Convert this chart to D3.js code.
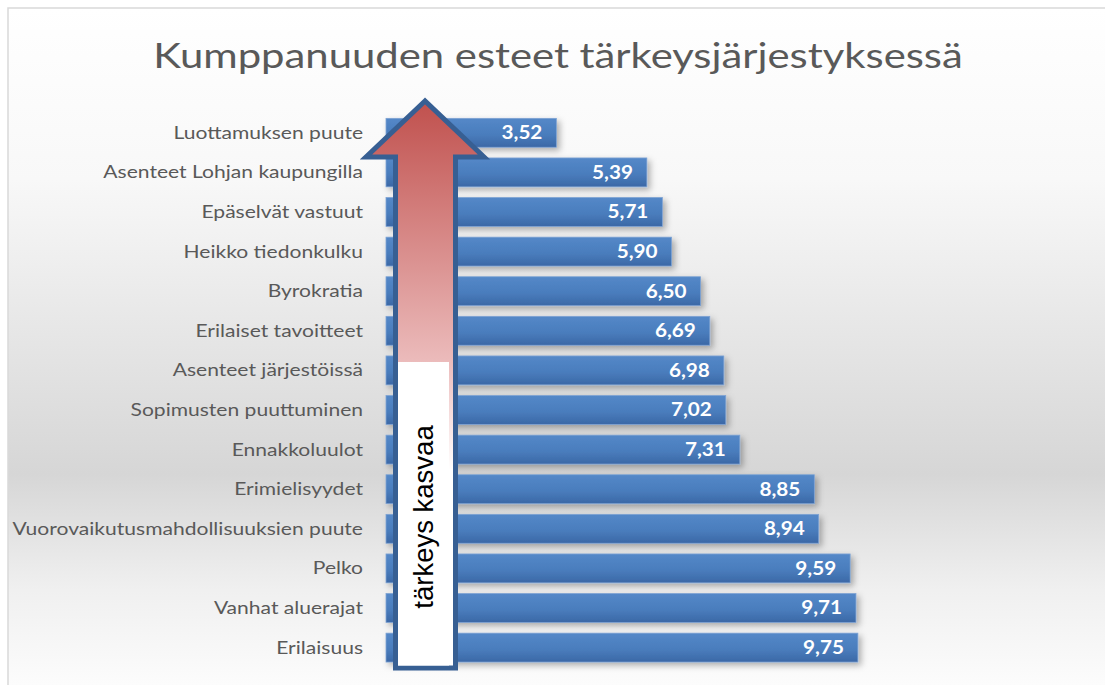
<!DOCTYPE html>
<html>
<head>
<meta charset="utf-8">
<script src="https://cdn.jsdelivr.net/npm/d3@7"></script>
<style>
  body { margin: 0; background: #fff; }
  svg { display: block; }
</style>
</head>
<body>
<svg id="chart" width="1105" height="685"></svg>
<script>
// data
const categories = ["Luottamuksen puute", "Asenteet Lohjan kaupungilla", "Epäselvät vastuut",
  "Heikko tiedonkulku", "Byrokratia", "Erilaiset tavoitteet", "Asenteet järjestöissä",
  "Sopimusten puuttuminen", "Ennakkoluulot", "Erimielisyydet",
  "Vuorovaikutusmahdollisuuksien puute", "Pelko", "Vanhat aluerajat", "Erilaisuus"];
const values = [3.52, 5.39, 5.71, 5.90, 6.50, 6.69, 6.98, 7.02, 7.31, 8.85, 8.94, 9.59, 9.71, 9.75];
const title = "Kumppanuuden esteet tärkeysjärjestyksessä";
const arrowText = "tärkeys kasvaa";

const svg = d3.select("#chart");
const W = 1105, H = 685;
const stretch = 1.15;  // reference text looks a bit wide

const defs = svg.append("defs");

// background: white -> grey -> white
const bg = defs.append("linearGradient").attr("id", "bg")
  .attr("x1", 0).attr("y1", 0).attr("x2", 0).attr("y2", 1);
bg.append("stop").attr("offset", "0%").attr("stop-color", "#ffffff");
bg.append("stop").attr("offset", "25%").attr("stop-color", "#f8f8f8");
bg.append("stop").attr("offset", "68%").attr("stop-color", "#d6d6d6");
bg.append("stop").attr("offset", "85%").attr("stop-color", "#f0f0f0");
bg.append("stop").attr("offset", "100%").attr("stop-color", "#fdfdfd");

const barGrad = defs.append("linearGradient").attr("id", "barGrad")
  .attr("x1", 0).attr("y1", 0).attr("x2", 0).attr("y2", 1);
barGrad.append("stop").attr("offset", "0%").attr("stop-color", "#5488c8");
barGrad.append("stop").attr("offset", "55%").attr("stop-color", "#4a7dbd");
barGrad.append("stop").attr("offset", "100%").attr("stop-color", "#3b68a6");

const shadow = defs.append("filter").attr("id", "shadow")
  .attr("x", "-10%").attr("y", "-30%").attr("width", "130%").attr("height", "180%");
shadow.append("feDropShadow").attr("dx", 3).attr("dy", 3).attr("stdDeviation", 3)
  .attr("flood-color", "#000").attr("flood-opacity", 0.3);

const arrowGrad = defs.append("linearGradient").attr("id", "arrowGrad")
  .attr("gradientUnits", "userSpaceOnUse")
  .attr("x1", 0).attr("y1", 100).attr("x2", 0).attr("y2", 470);
arrowGrad.append("stop").attr("offset", "0%").attr("stop-color", "#c0504d");
arrowGrad.append("stop").attr("offset", "70%").attr("stop-color", "#ebbaba");
arrowGrad.append("stop").attr("offset", "100%").attr("stop-color", "#ffffff");

// frame
svg.append("rect").attr("x", 8).attr("y", 8).attr("width", W).attr("height", H)
  .attr("fill", "url(#bg)").attr("stroke", "#d9d9d9").attr("stroke-width", 1.5);

// title
svg.append("g").attr("transform", "translate(558,68) scale(1.23,1)")
  .append("text")
  .attr("text-anchor", "middle")
  .attr("font-family", "Lato, sans-serif")
  .attr("font-size", 34)
  .attr("fill", "#595959")
  .text(title);

// scales
const x = d3.scaleLinear().domain([0, 10]).range([386, 870]);
const y = d3.scaleBand().domain(categories).range([113, 667.4])
  .paddingInner(0.27).paddingOuter(0.135);

// category labels
const labels = svg.append("g");
categories.forEach(c => {
  labels.append("g")
    .attr("transform", `translate(363,${y(c) + y.bandwidth() / 2}) scale(1.24,1)`)
    .append("text")
    .attr("text-anchor", "end")
    .attr("dy", "0.35em")
    .attr("font-family", "Lato, sans-serif")
    .attr("font-size", 17)
    .attr("fill", "#595959")
    .text(c);
});

// bars
svg.append("g").selectAll("rect").data(values).enter().append("rect")
  .attr("x", x(0))
  .attr("y", (d, i) => y(categories[i]))
  .attr("width", d => x(d) - x(0))
  .attr("height", y.bandwidth())
  .attr("fill", "url(#barGrad)")
  .attr("stroke", "#7fa3d3")
  .attr("stroke-width", 0.8)
  .attr("filter", "url(#shadow)");

// value labels
const fmt = d => d.toFixed(2).replace(".", ",");
const vals = svg.append("g");
values.forEach((v, i) => {
  vals.append("g")
    .attr("transform", `translate(${x(v) - 14},${y(categories[i]) + y.bandwidth() / 2}) scale(${stretch},1)`)
    .append("text")
    .attr("text-anchor", "end")
    .attr("dy", "0.36em")
    .attr("font-family", "Lato, sans-serif")
    .attr("font-weight", "bold")
    .attr("font-size", 18)
    .attr("fill", "#ffffff")
    .text(fmt(v));
});

// arrow
const arrowPts = [[425, 101], [366, 157], [395.5, 157], [395.5, 668],
                  [455.5, 668], [455.5, 157], [484, 157]];
svg.append("path")
  .attr("d", d3.line()(arrowPts) + "Z")
  .attr("fill", "url(#arrowGrad)")
  .attr("stroke", "#375f93")
  .attr("stroke-width", 5)
  .attr("stroke-linejoin", "miter");

// text box inside arrow
svg.append("rect").attr("x", 398).attr("y", 362).attr("width", 51).attr("height", 303.5)
  .attr("fill", "#ffffff");

svg.append("text")
  .attr("transform", "translate(433,517) rotate(-90)")
  .attr("text-anchor", "middle")
  .attr("font-family", "'Liberation Sans', Arial, sans-serif")
  .attr("font-size", 27.5)
  .attr("fill", "#000")
  .text(arrowText);
</script>
</body>
</html>
